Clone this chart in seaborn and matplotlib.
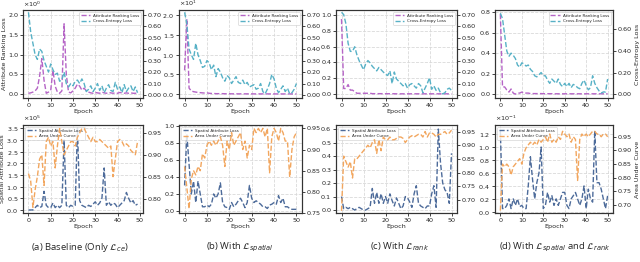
import numpy as np
import matplotlib
matplotlib.use("Agg")
import matplotlib.pyplot as plt
import matplotlib.ticker as mticker
import seaborn as sns

# ---- data ----
epochs_a = list(range(50))
epochs = list(range(51))

a_rank = [0.02, 0.03, 0.05, 0.08, 0.15, 0.45, 0.9, 0.35, 0.02, 0.05,
          0.1, 0.6, 0.2, 0.05, 0.02, 0.08, 1.78, 0.5, 0.05, 0.03,
          0.08, 0.15, 0.25, 0.2, 0.1, 0.15, 0.08, 0.05, 0.03, 0.02,
          0.04, 0.03, 0.02, 0.05, 0.03, 0.02, 0.04, 0.03, 0.02, 0.03,
          0.02, 0.04, 0.03, 0.02, 0.03, 0.02, 0.03, 0.02, 0.02, 0.02]
a_ce = [0.72, 0.55, 0.45, 0.35, 0.31, 0.40, 0.38, 0.30, 0.25, 0.20,
        0.27, 0.22, 0.18, 0.19, 0.12, 0.13, 0.20, 0.10, 0.07, 0.10,
        0.08, 0.12, 0.13, 0.10, 0.14, 0.10, 0.03, 0.05, 0.08, 0.03,
        0.06, 0.10, 0.04, 0.08, 0.02, 0.06, 0.09, 0.04, 0.03, 0.11,
        0.05, 0.07, 0.02, 0.09, 0.03, 0.06, 0.08, 0.03, 0.07, 0.02]

b_rank = [6.0, 19.0, 1.5, 0.8, 0.6, 0.5, 0.4, 0.35, 0.3, 0.25,
          0.3, 0.2, 0.15, 0.15, 0.1, 0.1, 0.1, 0.1, 0.08, 0.08,
          0.08, 0.06, 0.06, 0.06, 0.05, 0.05, 0.05, 0.05, 0.05, 0.05,
          0.05, 0.04, 0.04, 0.04, 0.04, 0.04, 0.04, 0.04, 0.04, 0.04,
          0.04, 0.03, 0.03, 0.03, 0.03, 0.03, 0.03, 0.03, 0.03, 0.03,
          0.03]
b_ce = [0.72, 0.62, 0.40, 0.35, 0.31, 0.45, 0.35, 0.30, 0.24, 0.25,
        0.30, 0.28, 0.22, 0.26, 0.16, 0.23, 0.20, 0.15, 0.12, 0.17,
        0.15, 0.10, 0.13, 0.16, 0.11, 0.10, 0.13, 0.09, 0.11, 0.07,
        0.08, 0.09, 0.05, 0.06, 0.10, 0.03, 0.01, 0.05, 0.10, 0.18,
        0.14, 0.06, 0.02, 0.05, 0.08, 0.03, 0.06, 0.01, 0.02, 0.05,
        0.10]

c_rank = [0.95, 0.07, 0.07, 0.12, 0.05, 0.05, 0.03, 0.01, 0.01, 0.01,
          0.01, 0.01, 0.01, 0.01, 0.005, 0.005, 0.005, 0.005, 0.005, 0.005,
          0.004, 0.004, 0.004, 0.004, 0.004, 0.003, 0.003, 0.003, 0.003, 0.003,
          0.003, 0.003, 0.003, 0.003, 0.003, 0.003, 0.003, 0.003, 0.003, 0.003,
          0.003, 0.003, 0.003, 0.003, 0.003, 0.003, 0.003, 0.003, 0.003, 0.003,
          0.003]
c_ce = [0.72, 0.70, 0.62, 0.45, 0.38, 0.38, 0.42, 0.35, 0.30, 0.26,
        0.22, 0.27, 0.30, 0.28, 0.25, 0.23, 0.21, 0.24, 0.22, 0.20,
        0.18, 0.17, 0.21, 0.10, 0.20, 0.14, 0.12, 0.10, 0.08, 0.10,
        0.06, 0.09, 0.10, 0.08, 0.06, 0.10, 0.08, 0.02, 0.06, 0.10,
        0.15, 0.05, 0.08, 0.04, 0.06, 0.02, 0.01, 0.02, 0.05, 0.06,
        0.04]

d_rank = [0.78, 0.07, 0.07, 0.04, 0.02, 0.05, 0.01, 0.0, 0.01, 0.01,
          0.02, 0.01, 0.01, 0.01, 0.005, 0.005, 0.005, 0.005, 0.005, 0.005,
          0.004, 0.004, 0.004, 0.004, 0.004, 0.003, 0.003, 0.003, 0.003, 0.003,
          0.003, 0.003, 0.003, 0.003, 0.003, 0.003, 0.003, 0.003, 0.003, 0.003,
          0.003, 0.003, 0.003, 0.003, 0.003, 0.003, 0.003, 0.003, 0.003, 0.003,
          0.003]
d_ce = [0.75, 0.70, 0.55, 0.40, 0.35, 0.38, 0.36, 0.33, 0.27, 0.25,
        0.29, 0.28, 0.26, 0.27, 0.23, 0.21, 0.17, 0.16, 0.18, 0.20,
        0.17, 0.17, 0.13, 0.10, 0.14, 0.12, 0.10, 0.14, 0.09, 0.07,
        0.10, 0.07, 0.10, 0.06, 0.09, 0.08, 0.06, 0.05, 0.10, 0.13,
        0.08, 0.04, 0.06, 0.17, 0.10, 0.06, 0.03, 0.01, 0.02, 0.02,
        0.14]

# spatial loss of (a) in units of 1e5, of (d) in units of 1e-1
a_spatial = [0.0, 0.0, 0.0, 0.1, 0.2, 0.1, 0.15, 0.8, 0.2, 0.1,
             0.1, 0.3, 0.1, 0.2, 0.1, 0.2, 3.0, 0.2, 0.1, 0.2,
             0.15, 0.2, 3.5, 0.4, 0.2, 0.15, 0.1, 0.2, 0.15, 0.25,
             0.35, 0.2, 0.3, 0.5, 1.8, 0.2, 0.35, 0.2, 0.3, 0.25,
             0.1, 0.2, 0.3, 0.4, 0.75, 0.5, 0.3, 0.4, 0.2, 0.25]
a_auc = [0.857, 0.84, 0.78, 0.82, 0.85, 0.89, 0.90, 0.83, 0.93, 0.94,
         0.92, 0.93, 0.87, 0.92, 0.96, 0.93, 0.90, 0.91, 0.92, 0.93,
         0.93, 0.92, 0.94, 0.95, 0.96, 0.96, 0.95, 0.94, 0.93, 0.94,
         0.93, 0.93, 0.935, 0.93, 0.925, 0.92, 0.915, 0.92, 0.85, 0.89,
         0.93, 0.935, 0.93, 0.92, 0.925, 0.92, 0.91, 0.905, 0.90, 0.93]

b_spatial = [0.3, 0.9, 0.55, 0.2, 0.35, 0.1, 0.35, 0.2, 0.05, 0.05,
             0.07, 0.05, 0.08, 0.2, 0.15, 0.2, 0.33, 0.1, 0.05, 0.04,
             0.02, 0.1, 0.05, 0.08, 0.12, 0.15, 0.1, 0.04, 0.1, 0.3,
             0.15, 0.1, 0.12, 0.1, 0.08, 0.05, 0.05, 0.03, 0.07, 0.08,
             0.1, 0.08, 0.18, 0.1, 0.15, 0.05, 0.05, 0.03, 0.02, 0.02,
             0.02]
b_auc = [0.86, 0.81, 0.76, 0.83, 0.85, 0.84, 0.86, 0.85, 0.89, 0.88,
         0.91, 0.92, 0.91, 0.92, 0.91, 0.92, 0.93, 0.91, 0.86, 0.92,
         0.90, 0.94, 0.91, 0.92, 0.93, 0.94, 0.90, 0.92, 0.88, 0.91,
         0.90, 0.95, 0.94, 0.95, 0.94, 0.95, 0.93, 0.95, 0.845, 0.93,
         0.95, 0.94, 0.92, 0.95, 0.94, 0.92, 0.92, 0.835, 0.90, 0.93,
         0.94]

c_spatial = [0.1, 0.01, 0.02, 0.01, 0.02, 0.01, 0.0, 0.01, 0.02, 0.01,
             0.0, 0.0, 0.01, 0.02, 0.16, 0.05, 0.13, 0.05, 0.12, 0.05,
             0.1, 0.05, 0.12, 0.07, 0.03, 0.09, 0.05, 0.01, 0.03, 0.10,
             0.09, 0.06, 0.02, 0.12, 0.18, 0.05, 0.03, 0.02, 0.01, 0.03,
             0.03, 0.12, 0.18, 0.02, 0.6, 0.35, 0.2, 0.15, 0.13, 0.05,
             0.42]
c_auc = [0.66, 0.86, 0.84, 0.82, 0.84, 0.78, 0.85, 0.85, 0.86, 0.87,
         0.88, 0.89, 0.90, 0.89, 0.91, 0.92, 0.87, 0.92, 0.88, 0.93,
         0.92, 0.92, 0.93, 0.92, 0.92, 0.925, 0.93, 0.93, 0.925, 0.91,
         0.92, 0.93, 0.935, 0.93, 0.935, 0.94, 0.94, 0.93, 0.95, 0.93,
         0.945, 0.945, 0.94, 0.93, 0.94, 0.94, 0.945, 0.95, 0.94, 0.945,
         0.955]

d_spatial = [1.25, 0.05, 0.05, 0.1, 0.2, 0.05, 0.2, 0.1, 0.2, 0.08,
             0.1, 0.05, 0.05, 0.4, 0.85, 0.5, 0.2, 0.45, 0.6, 1.0,
             0.05, 0.1, 0.3, 0.15, 0.25, 0.1, 0.2, 0.1, 0.2, 0.3,
             0.3, 0.1, 0.05, 0.2, 0.25, 0.3, 0.2, 0.1, 0.2, 0.4,
             0.05, 0.35, 0.2, 0.15, 1.25, 0.45, 0.45, 0.35, 0.2, 0.05,
             0.25]
d_auc = [0.68, 0.85, 0.84, 0.85, 0.84, 0.81, 0.84, 0.85, 0.86, 0.87,
         0.85, 0.89, 0.91, 0.92, 0.93, 0.92, 0.93, 0.92, 0.94, 0.93,
         0.94, 0.95, 0.93, 0.96, 0.93, 0.94, 0.93, 0.95, 0.94, 0.97,
         0.96, 0.95, 0.96, 0.93, 0.95, 0.94, 0.79, 0.94, 0.96, 0.95,
         0.96, 0.95, 0.96, 0.97, 0.97, 0.96, 0.96, 0.95, 0.96, 0.96,
         0.95]

captions = [r"(a) Baseline (Only $\mathcal{L}_{ce}$)",
            r"(b) With $\mathcal{L}_{spatial}$",
            r"(c) With $\mathcal{L}_{rank}$",
            r"(d) With $\mathcal{L}_{spatial}$ and $\mathcal{L}_{rank}$"]

PURPLE = "#b564c6"
CYAN = "#57b1c6"
BLUE = "#4d6b9a"
ORANGE = "#f2a65e"

sns.set_style("ticks")
plt.rcParams['font.family'] = ['DejaVu Sans']

fig = plt.figure(figsize=(6.4, 2.62), dpi=100)
W, H = 640.0, 262.0

# axes boxes in pixels: (left, right)
cols = [(23, 143), (179, 302), (336, 457), (495, 613)]
top_rows = (10, 98)
bot_rows = (125, 213)

FS = 4.6


def px_rect(col, row):
    l, r = col
    t, b = row
    return [l / W, 1 - b / H, (r - l) / W, (b - t) / H]


def panel(rect, x, y1, y2, lab1, lab2, c1, c2, legend_loc, ylim1, ylim2,
          left_step, right_step, left_label=None, right_label=None,
          sci=False, offset_txt=None):
    ax = fig.add_axes(rect)
    ax2 = ax.twinx()
    sns.lineplot(x=x, y=y1, ax=ax, color=c1, linestyle='--', linewidth=1.0, label=lab1)
    sns.lineplot(x=x, y=y2, ax=ax2, color=c2, linestyle='--', linewidth=1.0, label=lab2)
    for a in (ax, ax2):
        if a.get_legend() is not None:
            a.get_legend().remove()
        a.tick_params(labelsize=FS, length=2, width=0.6, pad=1.5)
        for s in a.spines.values():
            s.set_visible(True)
            s.set_color('#333333')
            s.set_linewidth(0.8)
    ax.set_ylim(*ylim1)
    ax2.set_ylim(*ylim2)
    ax.grid(True, linestyle='--', color='#d9d9d9', linewidth=0.6)
    ax2.grid(False)
    ax.set_xticks([0, 10, 20, 30, 40, 50])
    ax.set_xlabel('Epoch', fontsize=FS, labelpad=1)
    ax.set_ylabel(left_label if left_label else '', fontsize=FS, labelpad=1)
    ax2.set_ylabel(right_label if right_label else '', fontsize=FS, labelpad=2)
    ax.yaxis.set_major_locator(mticker.MultipleLocator(left_step))
    ax2.yaxis.set_major_locator(mticker.MultipleLocator(right_step))
    ax2.yaxis.set_major_formatter(mticker.FormatStrFormatter('%.2f'))
    if sci:
        fmt = mticker.ScalarFormatter(useMathText=True)
        fmt.set_powerlimits((0, 0))
        ax.yaxis.set_major_formatter(fmt)
        ax.yaxis.get_offset_text().set_fontsize(FS)
    else:
        ax.yaxis.set_major_formatter(mticker.FormatStrFormatter('%.1f'))
    if offset_txt:
        ax.text(0.0, 1.01, offset_txt, transform=ax.transAxes, fontsize=FS,
                ha='left', va='bottom')
    h1, l1 = ax.get_legend_handles_labels()
    h2, l2 = ax2.get_legend_handles_labels()
    leg = ax.legend(h1 + h2, l1 + l2, loc=legend_loc, fontsize=3.0,
                    frameon=True, handlelength=2.2, borderpad=0.4,
                    labelspacing=0.3, framealpha=0.8, edgecolor='#cccccc',
                    fancybox=True)
    leg.get_frame().set_linewidth(0.5)
    return ax, ax2


RANK, CE = 'Attribute Ranking Loss', 'Cross-Entropy Loss'
SPA, AUC = 'Spatial Attribute Loss', 'Area Under Curve'

# top row: ranking loss vs cross-entropy
panel(px_rect(cols[0], top_rows), epochs_a, a_rank, a_ce, RANK, CE, PURPLE, CYAN,
      'upper right', (-0.1, 2.13), (-0.026, 0.74), 0.5, 0.1,
      left_label=RANK, offset_txt=r'$\times10^{0}$')
panel(px_rect(cols[1], top_rows), epochs, b_rank, b_ce, RANK, CE, PURPLE, CYAN,
      'upper right', (-1.0, 21.3), (-0.026, 0.74), 5, 0.1, sci=True)
panel(px_rect(cols[2], top_rows), epochs, c_rank, c_ce, RANK, CE, PURPLE, CYAN,
      'upper right', (-0.05, 1.065), (-0.026, 0.74), 0.2, 0.1)
panel(px_rect(cols[3], top_rows), epochs, d_rank, d_ce, RANK, CE, PURPLE, CYAN,
      'upper right', (-0.038, 0.82), (-0.036, 0.78), 0.2, 0.2,
      right_label=CE)

# bottom row: spatial attribute loss vs AUC
panel(px_rect(cols[0], bot_rows), epochs_a, np.array(a_spatial) * 1e5, a_auc, SPA, AUC,
      BLUE, ORANGE, 'upper left', (-0.13e5, 3.64e5), (0.767, 0.968), 0.5e5, 0.05,
      left_label=SPA, sci=True)
panel(px_rect(cols[1], bot_rows), epochs, b_spatial, b_auc, SPA, AUC,
      BLUE, ORANGE, 'upper left', (-0.023, 1.008), (0.75, 0.958), 0.2, 0.05)
panel(px_rect(cols[2], bot_rows), epochs, c_spatial, c_auc, SPA, AUC,
      BLUE, ORANGE, 'upper left', (-0.022, 0.63), (0.652, 0.974), 0.1, 0.05)
panel(px_rect(cols[3], bot_rows), epochs, np.array(d_spatial) * 1e-1, d_auc, SPA, AUC,
      BLUE, ORANGE, 'upper left', (-0.0018, 0.134), (0.671, 0.993), 0.02, 0.05,
      right_label=AUC, sci=True)

cap_x = [0.125, 0.375, 0.625, 0.867]
for cx, txt in zip(cap_x, captions):
    fig.text(cx, 0.057, txt, ha='center', va='center', fontsize=6.8,
             family=['Open Sans', 'DejaVu Sans'])

fig.savefig('out.png', dpi=100)
